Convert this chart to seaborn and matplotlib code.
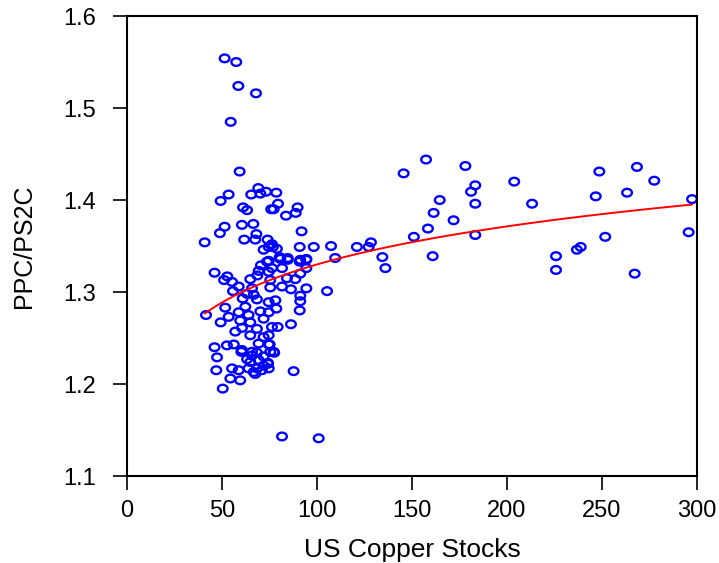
import numpy as np
import pandas as pd
import matplotlib
matplotlib.use("Agg")
import matplotlib.pyplot as plt
from matplotlib.path import Path
import seaborn as sns

# US copper stocks (x) against PPC/PS2C ratio (y)
us_stocks = [
    51.4, 57.5, 58.6, 67.9, 54.6,
    59.3, 53.5, 49.3, 69.1, 65.4, 70.2, 73.2, 61.1, 63.2, 75.9, 51.4, 48.9,
    60.5, 66.5, 68.1, 61.7, 67.5, 74.0, 40.9, 71.9, 74.6,
    78.6, 79.5, 77.2, 89.8, 88.8, 83.7, 91.9, 76.3, 76.8, 78.9, 90.9, 98.3,
    107.4, 80.4, 84.6, 91.2, 94.4, 109.6,
    46.1, 51.1, 52.8, 55.3, 55.8, 58.8, 60.9, 63.2, 64.9, 68.6, 70.5, 69.3,
    73.7, 74.6, 65.8, 66.7, 68.4, 51.7, 41.6, 53.5, 49.3, 58.8, 59.6, 62.3,
    64.0, 70.2, 71.9, 64.9, 68.4, 60.5, 57.0, 64.9, 71.9, 69.3, 74.6, 46.1,
    52.6, 56.2, 60.5, 65.8, 75.4,
    74.6, 80.7, 84.6, 90.9, 94.4, 76.3, 81.6, 94.4, 84.2, 88.6, 91.2, 75.4,
    75.4, 81.6, 86.3, 94.4, 105.3, 91.2, 78.1, 91.2, 74.6, 78.6, 90.9, 74.6,
    86.3, 76.3, 79.3, 74.6, 75.1, 77.2,
    47.4, 47.0, 55.3, 58.8, 54.4, 59.6, 50.4, 60.2, 63.2, 65.8, 68.4, 71.9,
    64.9, 69.3, 71.9, 64.0, 68.4, 66.7, 71.0, 74.6, 74.2, 67.5,
    77.5, 74.2, 87.7, 81.6, 100.9,
    145.6, 157.4, 178.1, 183.3, 181.1, 164.6, 203.8, 183.3, 161.4, 213.2,
    171.9, 158.4, 151.0, 183.3, 121.0, 127.2, 128.4, 134.4, 136.0, 160.9,
    248.6, 268.4, 277.5, 246.7, 263.2, 297.4, 225.8, 225.8, 236.8, 238.8,
    251.7, 295.6, 267.2,
]
ppc_ps2c = [
    1.554, 1.550, 1.524, 1.516, 1.485,
    1.431, 1.406, 1.399, 1.413, 1.406, 1.407, 1.409, 1.392, 1.389, 1.390, 1.371, 1.364,
    1.373, 1.374, 1.363, 1.357, 1.357, 1.357, 1.354, 1.346, 1.349,
    1.408, 1.396, 1.390, 1.392, 1.386, 1.383, 1.366, 1.352, 1.349, 1.347, 1.349, 1.349,
    1.350, 1.338, 1.337, 1.335, 1.336, 1.337,
    1.321, 1.313, 1.317, 1.311, 1.301, 1.306, 1.293, 1.298, 1.314, 1.318, 1.329, 1.323,
    1.333, 1.322, 1.304, 1.297, 1.292, 1.283, 1.275, 1.273, 1.267, 1.278, 1.269, 1.284,
    1.275, 1.279, 1.271, 1.267, 1.260, 1.261, 1.257, 1.253, 1.251, 1.244, 1.243, 1.240,
    1.242, 1.243, 1.237, 1.235, 1.235,
    1.334, 1.336, 1.335, 1.333, 1.335, 1.326, 1.326, 1.326, 1.315, 1.314, 1.320, 1.313,
    1.305, 1.306, 1.303, 1.304, 1.301, 1.296, 1.291, 1.290, 1.289, 1.282, 1.280, 1.278,
    1.265, 1.262, 1.262, 1.253, 1.243, 1.235,
    1.229, 1.215, 1.217, 1.215, 1.206, 1.204, 1.195, 1.235, 1.227, 1.231, 1.234, 1.230,
    1.224, 1.226, 1.220, 1.217, 1.217, 1.213, 1.215, 1.217, 1.223, 1.211,
    1.234, 1.222, 1.214, 1.143, 1.141,
    1.429, 1.444, 1.437, 1.416, 1.409, 1.400, 1.420, 1.396, 1.386, 1.396,
    1.378, 1.369, 1.360, 1.362, 1.349, 1.349, 1.354, 1.338, 1.326, 1.339,
    1.431, 1.436, 1.421, 1.404, 1.408, 1.401, 1.339, 1.324, 1.346, 1.349,
    1.360, 1.365, 1.320,
]

x_ticks = [0, 50, 100, 150, 200, 250, 300]
y_ticks = [1.1, 1.2, 1.3, 1.4, 1.5, 1.6]

df = pd.DataFrame({"stocks": us_stocks, "ratio": ppc_ps2c})

sns.set_style("white")
plt.rcParams["font.family"] = ["Liberation Sans", "DejaVu Sans"]
plt.rcParams["text.color"] = "black"
plt.rcParams["axes.labelcolor"] = "black"

# slightly wide open ellipse, like the EViews marker
theta = np.linspace(0, 2 * np.pi, 40)
ellipse = Path(np.column_stack([1.25 * np.cos(theta), np.sin(theta)]), closed=True)

fig = plt.figure(figsize=(7.19, 5.63), dpi=100)
ax = fig.add_axes([0.1766, 0.1545, 0.7928, 0.817])

sns.scatterplot(data=df, x="stocks", y="ratio", ax=ax, marker=ellipse, s=48,
                facecolors="none", edgecolor="#0000ff", linewidth=1.7)
sns.regplot(data=df, x="stocks", y="ratio", ax=ax, scatter=False, logx=True,
            ci=None, color="#ff0000", line_kws={"linewidth": 1.4})

ax.set_xlim(0, 300)
ax.set_ylim(1.1, 1.6)
ax.set_xticks(x_ticks)
ax.set_yticks(y_ticks)
ax.set_xticklabels([str(t) for t in x_ticks])
ax.set_yticklabels([f"{t:.1f}" for t in y_ticks])
ax.tick_params(axis="both", direction="out", length=10, width=1.2, colors="black",
               labelcolor="black", labelsize=17, pad=7, left=True, bottom=True)
ax.tick_params(axis="y", pad=12)
for sp in ax.spines.values():
    sp.set_visible(True)
    sp.set_color("black")
    sp.set_linewidth(1.5)

ax.set_xlabel("US Copper Stocks", fontsize=19, labelpad=12, color="black")
ax.set_ylabel("PPC/PS2C", fontsize=18, labelpad=20, color="black")

fig.savefig("out.png", dpi=100)
